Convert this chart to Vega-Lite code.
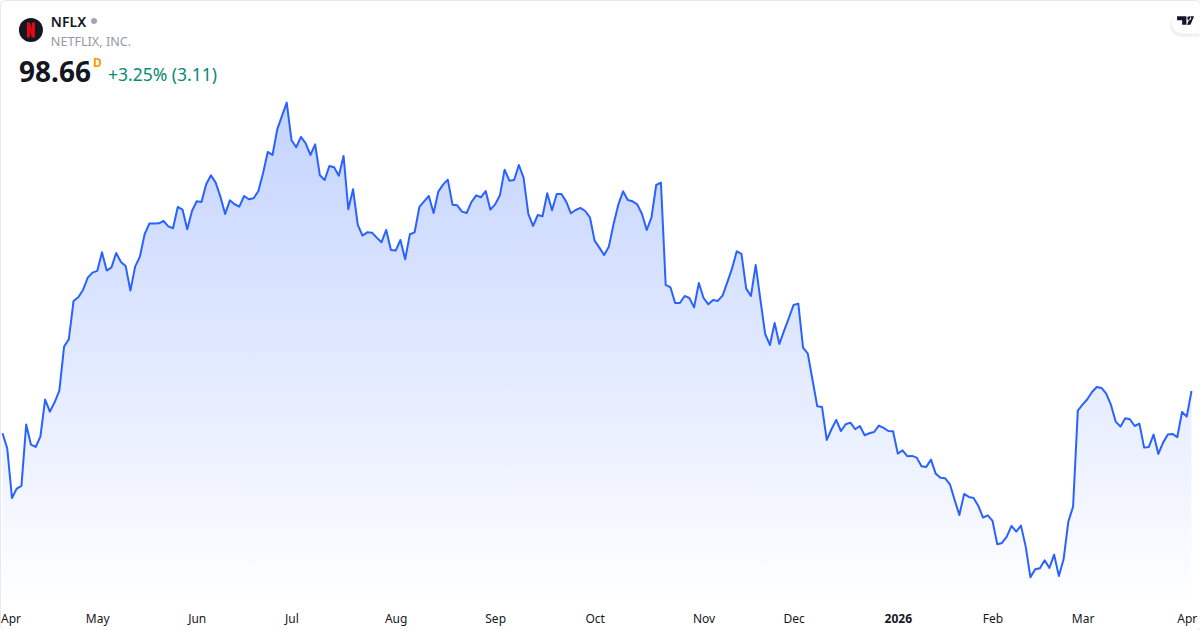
{"$schema":"https://vega.github.io/schema/vega-lite/v6.json","width":1200,"height":630,"autosize":{"type":"none"},"padding":0,"background":"#ffffff","view":{"stroke":"#e6e8ee","strokeWidth":1,"cornerRadius":5},
"data":{"values":[
{"date":"2025-04-02","close":93.50},{"date":"2025-04-03","close":91.67},{"date":"2025-04-04","close":85.61},{"date":"2025-04-07","close":86.75},{"date":"2025-04-08","close":87.08},{"date":"2025-04-09","close":94.56},{"date":"2025-04-10","close":92.12},{"date":"2025-04-11","close":91.83},{"date":"2025-04-14","close":93.09},{"date":"2025-04-15","close":97.61},{"date":"2025-04-16","close":96.14},{"date":"2025-04-17","close":97.28},{"date":"2025-04-21","close":98.70},{"date":"2025-04-22","close":104.07},{"date":"2025-04-23","close":104.96},{"date":"2025-04-24","close":109.64},{"date":"2025-04-25","close":110.09},{"date":"2025-04-28","close":110.98},{"date":"2025-04-29","close":112.48},{"date":"2025-04-30","close":113.09},
{"date":"2025-05-01","close":113.30},{"date":"2025-05-02","close":115.57},{"date":"2025-05-05","close":113.34},{"date":"2025-05-06","close":113.74},{"date":"2025-05-07","close":115.49},{"date":"2025-05-08","close":114.39},{"date":"2025-05-09","close":113.91},{"date":"2025-05-12","close":110.90},{"date":"2025-05-13","close":113.83},{"date":"2025-05-14","close":115.04},{"date":"2025-05-15","close":117.77},{"date":"2025-05-16","close":119.07},{"date":"2025-05-19","close":119.07},{"date":"2025-05-20","close":119.11},{"date":"2025-05-21","close":119.39},{"date":"2025-05-22","close":118.74},{"date":"2025-05-23","close":118.50},{"date":"2025-05-27","close":121.10},{"date":"2025-05-28","close":120.78},{"date":"2025-05-29","close":118.38},{"date":"2025-05-30","close":120.61},
{"date":"2025-06-02","close":121.79},{"date":"2025-06-03","close":121.71},{"date":"2025-06-04","close":123.87},{"date":"2025-06-05","close":124.96},{"date":"2025-06-06","close":124.07},{"date":"2025-06-09","close":122.36},{"date":"2025-06-10","close":120.25},{"date":"2025-06-11","close":121.91},{"date":"2025-06-12","close":121.43},{"date":"2025-06-13","close":121.14},{"date":"2025-06-16","close":122.44},{"date":"2025-06-17","close":122.04},{"date":"2025-06-18","close":122.16},{"date":"2025-06-20","close":123.01},{"date":"2025-06-23","close":125.21},{"date":"2025-06-24","close":127.81},{"date":"2025-06-25","close":127.44},{"date":"2025-06-26","close":130.57},{"date":"2025-06-27","close":132.20},{"date":"2025-06-30","close":133.83},
{"date":"2025-07-01","close":129.27},{"date":"2025-07-02","close":128.38},{"date":"2025-07-03","close":129.64},{"date":"2025-07-07","close":128.87},{"date":"2025-07-08","close":127.44},{"date":"2025-07-09","close":128.74},{"date":"2025-07-10","close":124.96},{"date":"2025-07-11","close":124.39},{"date":"2025-07-14","close":126.10},{"date":"2025-07-15","close":125.94},{"date":"2025-07-16","close":124.92},{"date":"2025-07-17","close":127.32},{"date":"2025-07-18","close":120.82},{"date":"2025-07-21","close":123.26},{"date":"2025-07-22","close":118.91},{"date":"2025-07-23","close":117.61},{"date":"2025-07-24","close":118.01},{"date":"2025-07-25","close":117.97},{"date":"2025-07-28","close":117.36},{"date":"2025-07-29","close":116.79},{"date":"2025-07-30","close":118.30},{"date":"2025-07-31","close":115.86},
{"date":"2025-08-01","close":115.78},{"date":"2025-08-04","close":117.07},{"date":"2025-08-05","close":114.72},{"date":"2025-08-06","close":117.77},{"date":"2025-08-07","close":118.01},{"date":"2025-08-08","close":121.10},{"date":"2025-08-11","close":121.79},{"date":"2025-08-12","close":122.44},{"date":"2025-08-13","close":120.37},{"date":"2025-08-14","close":122.97},{"date":"2025-08-15","close":123.82},{"date":"2025-08-18","close":124.43},{"date":"2025-08-19","close":121.38},{"date":"2025-08-20","close":121.30},{"date":"2025-08-21","close":120.53},{"date":"2025-08-22","close":120.37},{"date":"2025-08-25","close":121.71},{"date":"2025-08-26","close":122.52},{"date":"2025-08-27","close":122.28},{"date":"2025-08-28","close":123.05},{"date":"2025-08-29","close":120.77},
{"date":"2025-09-02","close":121.42},{"date":"2025-09-03","close":122.52},{"date":"2025-09-04","close":125.65},{"date":"2025-09-05","close":124.31},{"date":"2025-09-08","close":124.39},{"date":"2025-09-09","close":126.22},{"date":"2025-09-10","close":124.68},{"date":"2025-09-11","close":120.25},{"date":"2025-09-12","close":118.78},{"date":"2025-09-15","close":120.12},{"date":"2025-09-16","close":119.96},{"date":"2025-09-17","close":122.77},{"date":"2025-09-18","close":120.69},{"date":"2025-09-19","close":122.68},{"date":"2025-09-22","close":122.68},{"date":"2025-09-23","close":121.75},{"date":"2025-09-24","close":120.33},{"date":"2025-09-25","close":120.73},{"date":"2025-09-26","close":120.98},{"date":"2025-09-29","close":120.61},{"date":"2025-09-30","close":119.84},
{"date":"2025-10-01","close":116.99},{"date":"2025-10-02","close":116.14},{"date":"2025-10-03","close":115.25},{"date":"2025-10-06","close":116.26},{"date":"2025-10-07","close":119.03},{"date":"2025-10-08","close":121.38},{"date":"2025-10-09","close":123.01},{"date":"2025-10-10","close":121.95},{"date":"2025-10-13","close":121.79},{"date":"2025-10-14","close":121.42},{"date":"2025-10-15","close":120.25},{"date":"2025-10-16","close":118.29},{"date":"2025-10-17","close":119.84},{"date":"2025-10-20","close":123.78},{"date":"2025-10-21","close":124.07},{"date":"2025-10-22","close":111.59},{"date":"2025-10-23","close":111.30},{"date":"2025-10-24","close":109.39},{"date":"2025-10-27","close":109.39},{"date":"2025-10-28","close":110.25},{"date":"2025-10-29","close":110.00},{"date":"2025-10-30","close":108.86},{"date":"2025-10-31","close":111.83},
{"date":"2025-11-03","close":110.00},{"date":"2025-11-04","close":109.23},{"date":"2025-11-05","close":109.76},{"date":"2025-11-06","close":109.64},{"date":"2025-11-07","close":110.29},{"date":"2025-11-10","close":111.91},{"date":"2025-11-11","close":113.58},{"date":"2025-11-12","close":115.69},{"date":"2025-11-13","close":115.37},{"date":"2025-11-14","close":111.14},{"date":"2025-11-17","close":110.25},{"date":"2025-11-18","close":114.03},{"date":"2025-11-19","close":109.76},{"date":"2025-11-20","close":105.61},{"date":"2025-11-21","close":104.27},{"date":"2025-11-24","close":106.95},{"date":"2025-11-25","close":104.39},{"date":"2025-11-26","close":106.02},{"date":"2025-11-28","close":107.56},
{"date":"2025-12-01","close":109.15},{"date":"2025-12-02","close":109.31},{"date":"2025-12-03","close":103.95},{"date":"2025-12-04","close":103.22},{"date":"2025-12-05","close":100.00},{"date":"2025-12-08","close":96.79},{"date":"2025-12-09","close":96.71},{"date":"2025-12-10","close":92.69},{"date":"2025-12-11","close":93.99},{"date":"2025-12-12","close":95.13},{"date":"2025-12-15","close":93.78},{"date":"2025-12-16","close":94.60},{"date":"2025-12-17","close":94.80},{"date":"2025-12-18","close":93.99},{"date":"2025-12-19","close":94.39},{"date":"2025-12-22","close":93.26},{"date":"2025-12-23","close":93.50},{"date":"2025-12-24","close":93.66},{"date":"2025-12-26","close":94.44},{"date":"2025-12-29","close":94.15},{"date":"2025-12-30","close":93.78},{"date":"2025-12-31","close":93.74},
{"date":"2026-01-02","close":91.02},{"date":"2026-01-05","close":91.43},{"date":"2026-01-06","close":90.70},{"date":"2026-01-07","close":90.74},{"date":"2026-01-08","close":90.53},{"date":"2026-01-09","close":89.48},{"date":"2026-01-12","close":89.39},{"date":"2026-01-13","close":90.29},{"date":"2026-01-14","close":88.58},{"date":"2026-01-15","close":88.09},{"date":"2026-01-16","close":88.01},{"date":"2026-01-20","close":87.28},{"date":"2026-01-21","close":85.37},{"date":"2026-01-22","close":83.54},{"date":"2026-01-23","close":86.10},{"date":"2026-01-26","close":85.74},{"date":"2026-01-27","close":85.61},{"date":"2026-01-28","close":84.64},{"date":"2026-01-29","close":83.22},{"date":"2026-01-30","close":83.50},
{"date":"2026-02-02","close":82.81},{"date":"2026-02-03","close":79.96},{"date":"2026-02-04","close":80.13},{"date":"2026-02-05","close":80.90},{"date":"2026-02-06","close":82.20},{"date":"2026-02-09","close":81.51},{"date":"2026-02-10","close":82.24},{"date":"2026-02-11","close":79.68},{"date":"2026-02-12","close":75.94},{"date":"2026-02-13","close":76.91},{"date":"2026-02-17","close":77.04},{"date":"2026-02-18","close":78.01},{"date":"2026-02-19","close":77.08},{"date":"2026-02-20","close":78.70},{"date":"2026-02-23","close":76.10},{"date":"2026-02-24","close":78.13},{"date":"2026-02-25","close":82.73},{"date":"2026-02-26","close":84.56},{"date":"2026-02-27","close":96.26},
{"date":"2026-03-02","close":97.00},{"date":"2026-03-03","close":97.65},{"date":"2026-03-04","close":98.54},{"date":"2026-03-05","close":99.15},{"date":"2026-03-06","close":99.03},{"date":"2026-03-09","close":98.34},{"date":"2026-03-10","close":96.96},{"date":"2026-03-11","close":94.92},{"date":"2026-03-12","close":94.31},{"date":"2026-03-13","close":95.33},{"date":"2026-03-16","close":95.21},{"date":"2026-03-17","close":94.39},{"date":"2026-03-18","close":94.68},{"date":"2026-03-19","close":91.75},{"date":"2026-03-20","close":91.83},{"date":"2026-03-23","close":93.34},{"date":"2026-03-24","close":90.98},{"date":"2026-03-25","close":92.36},{"date":"2026-03-26","close":93.34},{"date":"2026-03-27","close":93.42},{"date":"2026-03-30","close":93.01},{"date":"2026-03-31","close":96.10},
{"date":"2026-04-01","close":95.53},{"date":"2026-04-02","close":98.66}
]},
"layer":[
{"mark":{"type":"area","line":false,"color":{"gradient":"linear","x1":1,"y1":1,"x2":1,"y2":0,"stops":[{"offset":0,"color":"rgba(41,98,255,0)"},{"offset":1,"color":"rgba(41,98,255,0.28)"}]}},
"encoding":{"x":{"field":"date","type":"ordinal","sort":"ascending","title":null,"scale":{"type":"point","padding":0,"range":[2.5,1191.5]},"axis":{"values":["2025-04-02","2025-05-01","2025-06-02","2025-07-01","2025-08-01","2025-09-02","2025-10-01","2025-11-03","2025-12-01","2026-01-02","2026-02-02","2026-03-02","2026-04-01"],"labelExpr":"datum.value=='2026-01-02'?'2026':utcFormat(toDate(datum.value),'%b')","labelFontWeight":{"condition":{"test":"datum.value=='2026-01-02'","value":"bold"},"value":"normal"},"labelAngle":0,"labelFont":"Noto Sans","labelFontSize":12,"labelColor":"#131722","labelPadding":-12,"labelBaseline":"middle","labelFlush":true,"labelFlushOffset":2,"labelOverlap":false,"domain":false,"ticks":false,"grid":false,"title":null}},
"y":{"field":"close","type":"quantitative","title":null,"axis":null,"scale":{"domain":[69.51,146.34],"zero":false,"nice":false}},"y2":{"datum":72.56}}},
{"mark":{"type":"line","color":"#2962ff","strokeWidth":2,"strokeJoin":"round"},"encoding":{"x":{"field":"date","type":"ordinal","sort":"ascending"},"y":{"field":"close","type":"quantitative"}}},
{"data":{"values":[{"k":1}]},"mark":{"type":"point","filled":true,"opacity":1,"fill":"#131722","size":576,"shape":"circle"},"encoding":{"x":{"datum":"2025-04-10"},"y":{"datum":142.68}}},
{"data":{"values":[{"k":1}]},"mark":{"type":"point","filled":true,"opacity":1,"fill":"#e50914","size":225,"shape":"M-.53,-1L-.13,-1L.13,-.1L.13,-1L.53,-1L.53,1L.13,1L-.13,.1L-.13,1L-.53,1Z"},"encoding":{"x":{"datum":"2025-04-10"},"y":{"datum":142.68}}},
{"data":{"values":[{"k":1}]},"mark":{"type":"text","text":"NFLX","align":"left","baseline":"middle","font":"Noto Sans","fontSize":14,"fontWeight":600,"color":"#131722","xOffset":1},"encoding":{"x":{"datum":"2025-04-16"},"y":{"datum":143.53}}},
{"data":{"values":[{"k":1}]},"mark":{"type":"point","filled":true,"opacity":1,"fill":"#a3a6af","size":36,"shape":"circle","xOffset":1.5},"encoding":{"x":{"datum":"2025-04-30"},"y":{"datum":143.78}}},
{"data":{"values":[{"k":1}]},"mark":{"type":"text","text":"NETFLIX, INC.","align":"left","baseline":"middle","font":"Noto Sans","fontSize":12.6,"color":"#9598a1","xOffset":1},"encoding":{"x":{"datum":"2025-04-16"},"y":{"datum":141.2}}},
{"data":{"values":[{"k":1}]},"mark":{"type":"text","text":"98.66","align":"left","baseline":"middle","font":"Noto Sans","fontSize":28,"fontWeight":700,"color":"#131722","xOffset":2.3},"encoding":{"x":{"datum":"2025-04-07"},"y":{"datum":137.3}}},
{"data":{"values":[{"k":1}]},"mark":{"type":"text","text":"D","align":"left","baseline":"middle","font":"Noto Sans","fontSize":12,"fontWeight":700,"color":"#ff9800","xOffset":0.5},"encoding":{"x":{"datum":"2025-04-30"},"y":{"datum":138.6}}},
{"data":{"values":[{"k":1}]},"mark":{"type":"text","text":"+3.25% (3.11)","align":"left","baseline":"middle","font":"Noto Sans","fontSize":17.5,"color":"#078a73","xOffset":1.3},"encoding":{"x":{"datum":"2025-05-05"},"y":{"datum":137.06}}},
{"data":{"values":[{"k":1}]},"mark":{"type":"point","filled":true,"opacity":1,"fill":"#131722","fillOpacity":0.03,"strokeWidth":0,"size":576,"yOffset":2.5,"shape":"M1.45,-1L0,-1A1,1 0 0 0 0,1L1.45,1Z"},"encoding":{"x":{"datum":"2026-03-31"},"y":{"datum":143.54}}},
{"data":{"values":[{"k":1}]},"mark":{"type":"point","filled":true,"opacity":1,"fill":"#131722","fillOpacity":0.04,"strokeWidth":0,"size":529,"yOffset":1.5,"shape":"M1.5,-1L0,-1A1,1 0 0 0 0,1L1.5,1Z"},"encoding":{"x":{"datum":"2026-03-31"},"y":{"datum":143.54}}},
{"data":{"values":[{"k":1}]},"mark":{"type":"point","filled":true,"opacity":1,"fill":"#ffffff","strokeWidth":0,"size":441,"shape":"M1.66,-1L0,-1A1,1 0 0 0 0,1L1.66,1Z"},"encoding":{"x":{"datum":"2026-03-31"},"y":{"datum":143.54}}},
{"data":{"values":[{"k":1}]},"mark":{"type":"point","filled":true,"opacity":1,"fill":"#131722","strokeWidth":0,"size":289,"xOffset":-1.2,"shape":"M-1,-.5L.1,-.5L.1,.5L-.4,.5L-.4,-.04L-1,-.04ZM.2,-.27A.23,.23 0 1 0 .66,-.27A.23,.23 0 1 0 .2,-.27ZM.62,-.5L1,-.5L.58,.5L.16,.5Z"},"encoding":{"x":{"datum":"2026-04-01"},"y":{"datum":143.84}}}
]}
